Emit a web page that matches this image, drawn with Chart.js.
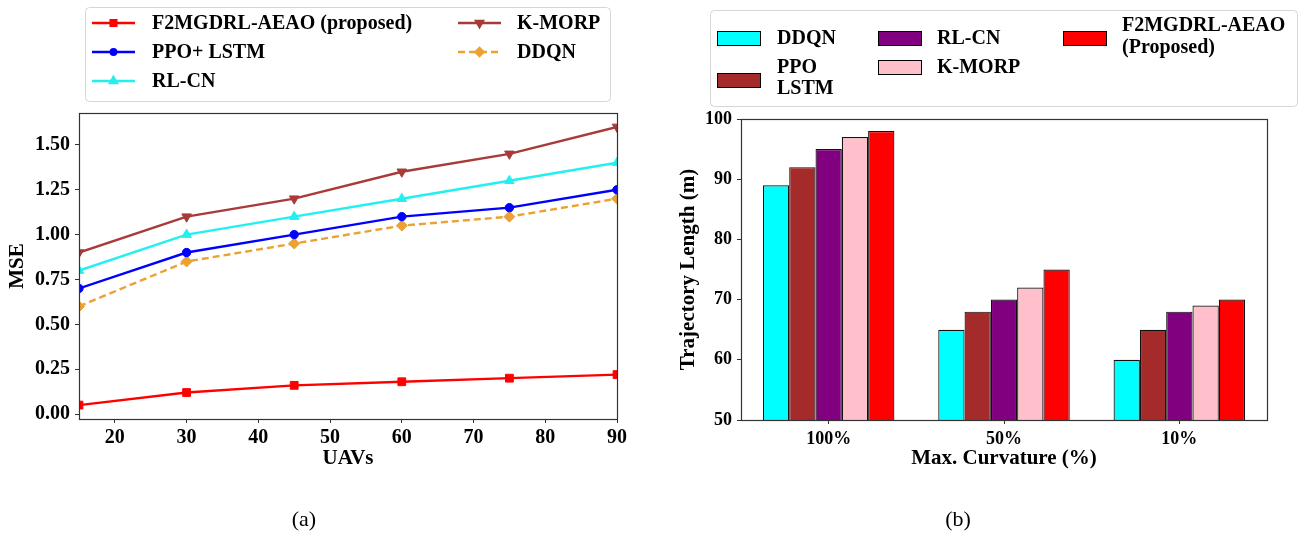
<!DOCTYPE html>
<html>
<head>
<meta charset="utf-8">
<script src="https://cdn.jsdelivr.net/npm/chart.js@4.4.1/dist/chart.umd.min.js"></script>
<style>
  html, body { margin: 0; padding: 0; background: #fff; }
  body { width: 1301px; height: 538px; overflow: hidden; position: relative; font-family: "Liberation Serif", serif; }
  #wa { position: absolute; left: 0; top: 0; width: 650px; height: 538px; }
  #wb { position: absolute; left: 650px; top: 0; width: 651px; height: 538px; }
  .cap { position: absolute; top: 506px; width: 60px; text-align: center; font-size: 22px; color: #000; font-family: "Liberation Serif", serif; }
</style>
</head>
<body>
<div id="wa"><canvas id="ca"></canvas></div>
<div id="wb"><canvas id="cb"></canvas></div>
<div class="cap" style="left:274px;">(a)</div>
<div class="cap" style="left:928px;">(b)</div>
<script>
// ---------------- data: panel (a) ----------------
const uavCounts   = [15, 30, 45, 60, 75, 90];
const mseProposed = [0.05, 0.12, 0.16, 0.18, 0.20, 0.22];
const msePpoLstm  = [0.70, 0.90, 1.00, 1.10, 1.15, 1.25];
const mseRlCn     = [0.80, 1.00, 1.10, 1.20, 1.30, 1.40];
const mseKMorp    = [0.90, 1.10, 1.20, 1.35, 1.45, 1.60];
const mseDdqn     = [0.60, 0.85, 0.95, 1.05, 1.10, 1.20];
const lineSeriesNames = ['F2MGDRL-AEAO (proposed)', 'PPO+ LSTM', 'RL-CN', 'K-MORP', 'DDQN'];
const uavTicks = [20, 30, 40, 50, 60, 70, 80, 90];
const mseTicks = [0, 0.25, 0.5, 0.75, 1.0, 1.25, 1.5];

// ---------------- data: panel (b) ----------------
const curvatureLabels = ['100%', '50%', '10%'];
const lenDdqn     = [89, 65, 60];
const lenPpoLstm  = [92, 68, 65];
const lenRlCn     = [95, 70, 68];
const lenKMorp    = [97, 72, 69];
const lenProposed = [98, 75, 70];
const barSeriesNames = [['DDQN'], ['PPO', 'LSTM'], ['RL-CN'], ['K-MORP'], ['F2MGDRL-AEAO', '(Proposed)']];
const lengthTicks = [50, 60, 70, 80, 90, 100];

// ---------------- styles ----------------
const FONT = '"Liberation Serif", "Times New Roman", serif';
Chart.defaults.font.family = FONT;
Chart.defaults.color = '#000';

const lineStyles = [
  { color: '#ff0000', point: 'rect', rot: 0, radius: 5.5, dash: [] },
  { color: '#0000ff', point: 'circle', rot: 0, radius: 4.2, dash: [] },
  { color: '#22f0f0', point: 'triangle', rot: 0, radius: 5.5, dash: [] },
  { color: '#a83a3a', point: 'triangle', rot: 180, radius: 5.5, dash: [] },
  { color: '#eba232', point: 'rectRot', rot: 0, radius: 5.5, dash: [7, 4] }
];
const barColors = ['#00ffff', '#a52a2a', '#800080', '#ffc0cb', '#ff0000'];

const toPoints = (xs, ys) => xs.map((x, i) => ({ x: x, y: ys[i] }));

const framePlugin = {
  id: 'frame',
  afterDatasetsDraw(chart) {
    const { ctx, chartArea: a } = chart;
    ctx.save();
    ctx.strokeStyle = '#333';
    ctx.lineWidth = 1.2;
    ctx.strokeRect(Math.round(a.left) + 0.5, Math.round(a.top) + 0.5,
                   Math.round(a.right - a.left), Math.round(a.bottom - a.top));
    ctx.restore();
  }
};

function roundBox(ctx, x, y, w, h, r) {
  ctx.beginPath();
  ctx.moveTo(x + r, y);
  ctx.lineTo(x + w - r, y);
  ctx.quadraticCurveTo(x + w, y, x + w, y + r);
  ctx.lineTo(x + w, y + h - r);
  ctx.quadraticCurveTo(x + w, y + h, x + w - r, y + h);
  ctx.lineTo(x + r, y + h);
  ctx.quadraticCurveTo(x, y + h, x, y + h - r);
  ctx.lineTo(x, y + r);
  ctx.quadraticCurveTo(x, y, x + r, y);
  ctx.closePath();
  ctx.fillStyle = '#fff';
  ctx.fill();
  ctx.strokeStyle = '#d6d6d6';
  ctx.lineWidth = 1;
  ctx.stroke();
}

// legend for panel (a): column-major, 3 rows x 2 cols
const legendA = {
  id: 'legendA',
  afterDraw(chart) {
    const ctx = chart.ctx;
    ctx.save();
    roundBox(ctx, 85.5, 7.5, 525, 94, 4);
    const colHandle = [92, 458];
    const colText = [152, 517];
    const rowY = [23, 52, 81];
    ctx.font = 'bold 20px ' + FONT;
    ctx.textBaseline = 'middle';
    chart.data.datasets.forEach((ds, i) => {
      const col = Math.floor(i / 3), row = i % 3;
      const st = lineStyles[i];
      const hx = colHandle[col], y = rowY[row];
      ctx.strokeStyle = st.color;
      ctx.lineWidth = 2.4;
      ctx.setLineDash(st.dash);
      ctx.beginPath(); ctx.moveTo(hx, y); ctx.lineTo(hx + 43, y); ctx.stroke();
      ctx.setLineDash([]);
      ctx.fillStyle = st.color;
      Chart.helpers.drawPoint(ctx, { pointStyle: st.point, rotation: st.rot, radius: st.radius - 1.5, borderWidth: 1 }, hx + 21.5, y);
      ctx.fillStyle = '#000';
      ctx.fillText(ds.label, colText[col], y + 1);
    });
    ctx.restore();
  }
};

// legend for panel (b): column-major, 2 rows x 3 cols
const legendB = {
  id: 'legendB',
  afterDraw(chart) {
    const ctx = chart.ctx;
    ctx.save();
    roundBox(ctx, 60.5, 10.5, 587, 96, 4);
    const colPatch = [67, 228, 413];
    const colText = [127, 287, 472];
    const patchY = [[38, 80], [38, 67], [38]];
    const textY = [[[38], [67, 88]], [[38], [67]], [[25, 47]]];
    ctx.font = 'bold 20px ' + FONT;
    ctx.textBaseline = 'middle';
    chart.data.datasets.forEach((ds, i) => {
      const col = Math.floor(i / 2), row = i % 2;
      const py = patchY[col][row];
      ctx.fillStyle = barColors[i];
      ctx.fillRect(colPatch[col], py - 7, 43, 14);
      ctx.strokeStyle = '#000';
      ctx.lineWidth = 1;
      ctx.strokeRect(colPatch[col] + 0.5, py - 7 + 0.5, 43, 14);
      ctx.fillStyle = '#000';
      barSeriesNames[i].forEach((line, k) => {
        ctx.fillText(line, colText[col], textY[col][row][k] + 1);
      });
    });
    ctx.restore();
  }
};

// ---------------- chart (a) ----------------
const lineData = [mseProposed, msePpoLstm, mseRlCn, mseKMorp, mseDdqn];
new Chart(document.getElementById('ca'), {
  type: 'line',
  data: {
    datasets: lineData.map((vals, i) => ({
      label: lineSeriesNames[i],
      data: toPoints(uavCounts, vals),
      borderColor: lineStyles[i].color,
      backgroundColor: lineStyles[i].color,
      borderWidth: 2.4,
      borderDash: lineStyles[i].dash,
      pointStyle: lineStyles[i].point,
      pointRotation: lineStyles[i].rot,
      pointRadius: lineStyles[i].radius,
      pointBorderWidth: 1,
      tension: 0,
      fill: false
    }))
  },
  options: {
    responsive: true,
    maintainAspectRatio: false,
    animation: false,
    devicePixelRatio: 1,
    layout: { padding: { left: 5, top: 113, right: 33, bottom: 67 } },
    plugins: { legend: { display: false }, tooltip: { enabled: false } },
    scales: {
      x: {
        type: 'linear', min: 15, max: 90,
        afterBuildTicks: s => { s.ticks = uavTicks.map(v => ({ value: v })); },
        afterFit: s => { s.height = 52; },
        ticks: { font: { size: 20, weight: 'bold' }, color: '#000', padding: 3, maxRotation: 0, callback: v => String(v) },
        grid: { display: true, drawOnChartArea: false, drawTicks: true, tickLength: 4, color: '#333' },
        border: { display: false },
        title: { display: true, text: 'UAVs', font: { size: 21, weight: 'bold' }, color: '#000', padding: 0 }
      },
      y: {
        type: 'linear', min: -0.0275, max: 1.6775,
        afterBuildTicks: s => { s.ticks = mseTicks.map(v => ({ value: v })); },
        afterFit: s => { s.width = 74; },
        ticks: { font: { size: 20, weight: 'bold' }, color: '#000', padding: 5, callback: v => Number(v).toFixed(2) },
        grid: { display: true, drawOnChartArea: false, drawTicks: true, tickLength: 4, color: '#333' },
        border: { display: false },
        title: { display: true, text: 'MSE', font: { size: 21, weight: 'bold' }, color: '#000', padding: 0 }
      }
    }
  },
  plugins: [framePlugin, legendA]
});

// ---------------- chart (b) ----------------
const barData = [lenDdqn, lenPpoLstm, lenRlCn, lenKMorp, lenProposed];
new Chart(document.getElementById('cb'), {
  type: 'bar',
  data: {
    labels: curvatureLabels,
    datasets: barData.map((vals, i) => ({
      label: barSeriesNames[i].join(' '),
      data: vals,
      backgroundColor: barColors[i],
      borderColor: '#111',
      borderWidth: 1.2,
      categoryPercentage: 0.75,
      barPercentage: 1.0
    }))
  },
  options: {
    responsive: true,
    maintainAspectRatio: false,
    animation: false,
    devicePixelRatio: 1,
    layout: { padding: { left: 26, top: 119, right: 34, bottom: 67 } },
    plugins: { legend: { display: false }, tooltip: { enabled: false } },
    scales: {
      x: {
        afterFit: s => { s.height = 51; },
        ticks: { font: { size: 18, weight: 'bold' }, color: '#000', padding: 5, maxRotation: 0 },
        grid: { display: true, offset: false, drawOnChartArea: false, drawTicks: true, tickLength: 4, color: '#333' },
        border: { display: false },
        title: { display: true, text: 'Max. Curvature (%)', font: { size: 21, weight: 'bold' }, color: '#000', padding: 0 }
      },
      y: {
        min: 50, max: 100,
        afterBuildTicks: s => { s.ticks = lengthTicks.map(v => ({ value: v })); },
        afterFit: s => { s.width = 65; },
        ticks: { font: { size: 18, weight: 'bold' }, color: '#000', padding: 5 },
        grid: { display: true, drawOnChartArea: false, drawTicks: true, tickLength: 4, color: '#333' },
        border: { display: false },
        title: { display: true, text: 'Trajectory Length (m)', font: { size: 21, weight: 'bold' }, color: '#000', padding: 0 }
      }
    }
  },
  plugins: [framePlugin, legendB]
});
</script>
</body>
</html>
